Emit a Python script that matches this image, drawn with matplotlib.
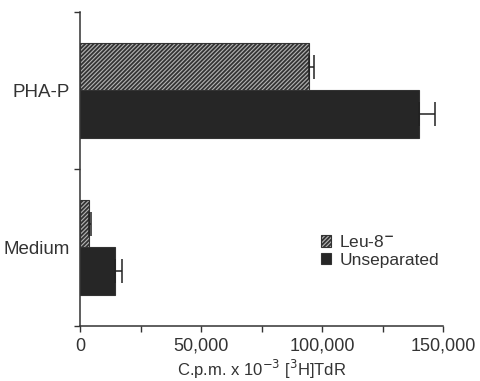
import matplotlib
matplotlib.use("Agg")
import matplotlib.pyplot as plt
from matplotlib.patches import Patch

plt.rcParams['font.family'] = ['Liberation Sans', 'DejaVu Sans']
plt.rcParams['hatch.color'] = '#2a2a2a'
plt.rcParams['hatch.linewidth'] = 1.3

categories = ["Medium", "PHA-P"]
leu8_values = [3700, 94500]
leu8_errors = [700, 2100]
unsep_values = [14500, 140200]
unsep_errors = [3000, 6400]
series_labels = ["Leu-8$^{\\mathbf{-}}$", "Unseparated"]
xticks = [0, 50000, 100000, 150000]
xticklabels = ["0", "50,000", "100,000", "150,000"]

fig = plt.figure(figsize=(4.8, 3.81), dpi=100)
ax = fig.add_axes([80/480, 1-326/381, (443-80)/480, (326-12)/381])

h = 0.304
centers = [0.5, 1.5]
leu_y = [c + h/2 for c in centers]
uns_y = [c - h/2 for c in centers]

ax.barh(leu_y, leu8_values, height=h, color='#b4b4b4', edgecolor='#333333',
        hatch='////////', linewidth=0.8)
ax.barh(uns_y, unsep_values, height=h, color='#262626', edgecolor='#333333',
        linewidth=0.8)
ax.errorbar(leu8_values, leu_y, xerr=[[0]*2, leu8_errors], fmt='none',
            ecolor='#222222', elinewidth=1.1, capsize=8.5, capthick=1.1)
ax.errorbar(unsep_values, uns_y, xerr=[[0]*2, unsep_errors], fmt='none',
            ecolor='#222222', elinewidth=1.1, capsize=8.5, capthick=1.1)

ax.set_xlim(0, 150000)
ax.set_ylim(0, 2)
for s in ['top', 'right']:
    ax.spines[s].set_visible(False)
for s in ['left', 'bottom']:
    ax.spines[s].set_linewidth(1.1)
    ax.spines[s].set_color('#333333')

ax.set_xticks(xticks)
ax.set_xticklabels(xticklabels, fontsize=13)
ax.set_xticks([25000, 75000, 125000], minor=True)
ax.tick_params(axis='x', which='both', direction='out', length=4, width=1.0,
               color='#333333', pad=4.5)
ax.set_yticks([0, 1, 2])
ax.set_yticklabels([])
ax.set_yticks(centers, minor=True)
ax.set_yticklabels(categories, minor=True, fontsize=13.5)
ax.tick_params(axis='y', which='major', direction='out', length=4, width=1.0, color='#333333')
ax.tick_params(axis='y', which='minor', length=0, pad=7)

ax.set_xlabel("C.p.m. x 10$^{-3}$ [$^{3}$H]TdR", fontsize=12, labelpad=2.5)

handles = [Patch(facecolor='#b4b4b4', edgecolor='#333333', hatch='////////', linewidth=0.8),
           Patch(facecolor='#262626', edgecolor='#333333', linewidth=0.8)]
leg = ax.legend(handles, series_labels, loc='upper left',
                bbox_to_anchor=(321/480, 1-234/381), bbox_transform=fig.transFigure,
                frameon=False, fontsize=12.5, handlelength=0.6, handleheight=0.65,
                handletextpad=0.45, labelspacing=0.15, borderpad=0, borderaxespad=0)

for t in ax.get_xticklabels() + ax.get_yticklabels(minor=True) + leg.get_texts():
    t.set_color('#333333')
ax.xaxis.label.set_color('#333333')

fig.savefig("out.png", dpi=100)
